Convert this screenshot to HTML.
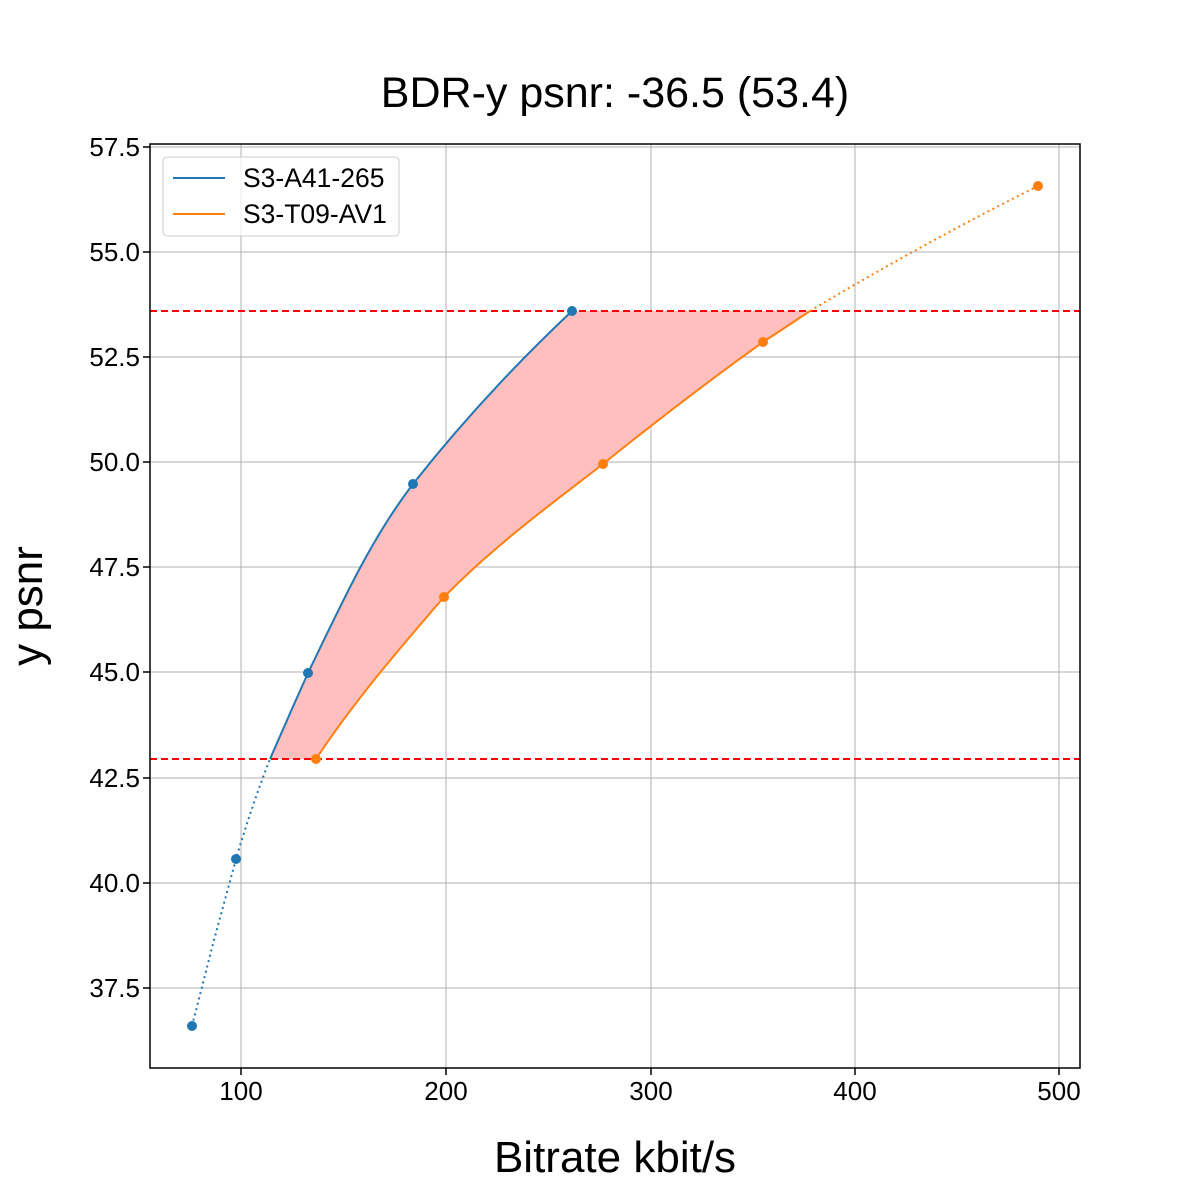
<!DOCTYPE html>
<html><head><meta charset="utf-8"><style>
html,body{margin:0;padding:0;background:#fff;}
svg{display:block;font-family:"Liberation Sans","DejaVu Sans",sans-serif;}
</style></head><body>
<svg width="1200" height="1200" viewBox="0 0 1200 1200">
<rect width="1200" height="1200" fill="#fff"/>
<text x="615" y="107" font-size="43" text-anchor="middle">BDR-y psnr: -36.5 (53.4)</text>
<g stroke="#b0b0b0" stroke-width="1">
<line x1="241" y1="144" x2="241" y2="1068"/><line x1="446" y1="144" x2="446" y2="1068"/>
<line x1="651" y1="144" x2="651" y2="1068"/><line x1="855" y1="144" x2="855" y2="1068"/>
<line x1="1059" y1="144" x2="1059" y2="1068"/>
<line x1="150" y1="147" x2="1080" y2="147"/><line x1="150" y1="252" x2="1080" y2="252"/>
<line x1="150" y1="357" x2="1080" y2="357"/><line x1="150" y1="462" x2="1080" y2="462"/>
<line x1="150" y1="567" x2="1080" y2="567"/><line x1="150" y1="672" x2="1080" y2="672"/>
<line x1="150" y1="778" x2="1080" y2="778"/><line x1="150" y1="883" x2="1080" y2="883"/>
<line x1="150" y1="988" x2="1080" y2="988"/>
</g>
<path d="M270,759 C283,729 295,702 308,673 C340,607 370,540 413,484 C465,418 520,360 572,311 L810,311 C795,321 780,331 763,342 C710,380 655,422 603,464 C550,505 495,545 444,597 C400,648 355,700 316,759 Z" fill="#ffbfbf"/>
<line x1="150" y1="311" x2="1080" y2="311" stroke="#f00" stroke-width="2" stroke-dasharray="7,4"/>
<line x1="150" y1="759" x2="1080" y2="759" stroke="#f00" stroke-width="2" stroke-dasharray="7,4"/>
<path d="M192,1026 L214,940 L236,859 Q252,805 270,759" fill="none" stroke="#1f77b4" stroke-width="2" stroke-dasharray="2,3.5"/>
<path d="M270,759 C283,729 295,702 308,673 C340,607 370,540 413,484 C465,418 520,360 572,311" fill="none" stroke="#1f77b4" stroke-width="2"/>
<path d="M316,759 C355,700 400,648 444,597 C495,545 550,505 603,464 C655,422 710,380 763,342 C780,331 795,321 810,311" fill="none" stroke="#ff7f0e" stroke-width="2"/>
<path d="M810,311 Q920,245 1038,186" fill="none" stroke="#ff7f0e" stroke-width="2" stroke-dasharray="2,3.5"/>
<g fill="#1f77b4"><circle cx="192" cy="1026" r="5"/><circle cx="236" cy="859" r="5"/><circle cx="308" cy="673" r="5"/><circle cx="413" cy="484" r="5"/><circle cx="572" cy="311" r="5"/></g>
<g fill="#ff7f0e"><circle cx="316" cy="759" r="5"/><circle cx="444" cy="597" r="5"/><circle cx="603" cy="464" r="5"/><circle cx="763" cy="342" r="5"/><circle cx="1038" cy="186" r="5"/></g>
<rect x="150" y="144" width="930" height="924" fill="none" stroke="#000" stroke-width="1.5"/>
<g stroke="#000" stroke-width="1.5">
<line x1="241" y1="1068" x2="241" y2="1075"/><line x1="446" y1="1068" x2="446" y2="1075"/>
<line x1="651" y1="1068" x2="651" y2="1075"/><line x1="855" y1="1068" x2="855" y2="1075"/>
<line x1="1059" y1="1068" x2="1059" y2="1075"/>
<line x1="143" y1="147" x2="150" y2="147"/><line x1="143" y1="252" x2="150" y2="252"/>
<line x1="143" y1="357" x2="150" y2="357"/><line x1="143" y1="462" x2="150" y2="462"/>
<line x1="143" y1="567" x2="150" y2="567"/><line x1="143" y1="672" x2="150" y2="672"/>
<line x1="143" y1="778" x2="150" y2="778"/><line x1="143" y1="883" x2="150" y2="883"/>
<line x1="143" y1="988" x2="150" y2="988"/>
</g>
<g font-size="26" text-anchor="middle">
<text x="241" y="1100">100</text><text x="446" y="1100">200</text><text x="651" y="1100">300</text>
<text x="855" y="1100">400</text><text x="1059" y="1100">500</text>
</g>
<g font-size="26" text-anchor="end">
<text x="140" y="156">57.5</text><text x="140" y="261">55.0</text><text x="140" y="366">52.5</text>
<text x="140" y="471">50.0</text><text x="140" y="576">47.5</text><text x="140" y="681">45.0</text>
<text x="140" y="787">42.5</text><text x="140" y="892">40.0</text><text x="140" y="997">37.5</text>
</g>
<text x="615" y="1172" font-size="44" text-anchor="middle">Bitrate kbit/s</text>
<text transform="translate(42,606) rotate(-90)" font-size="44" text-anchor="middle">y psnr</text>
<rect x="163" y="157" width="236" height="79" rx="4" fill="#fff" fill-opacity="0.8" stroke="#ccc" stroke-width="1"/>
<line x1="173" y1="178" x2="225" y2="178" stroke="#1f77b4" stroke-width="2"/>
<line x1="173" y1="214" x2="225" y2="214" stroke="#ff7f0e" stroke-width="2"/>
<text x="243" y="187" font-size="26.5">S3-A41-265</text>
<text x="243" y="223" font-size="26.5">S3-T09-AV1</text>
</svg>
</body></html>
